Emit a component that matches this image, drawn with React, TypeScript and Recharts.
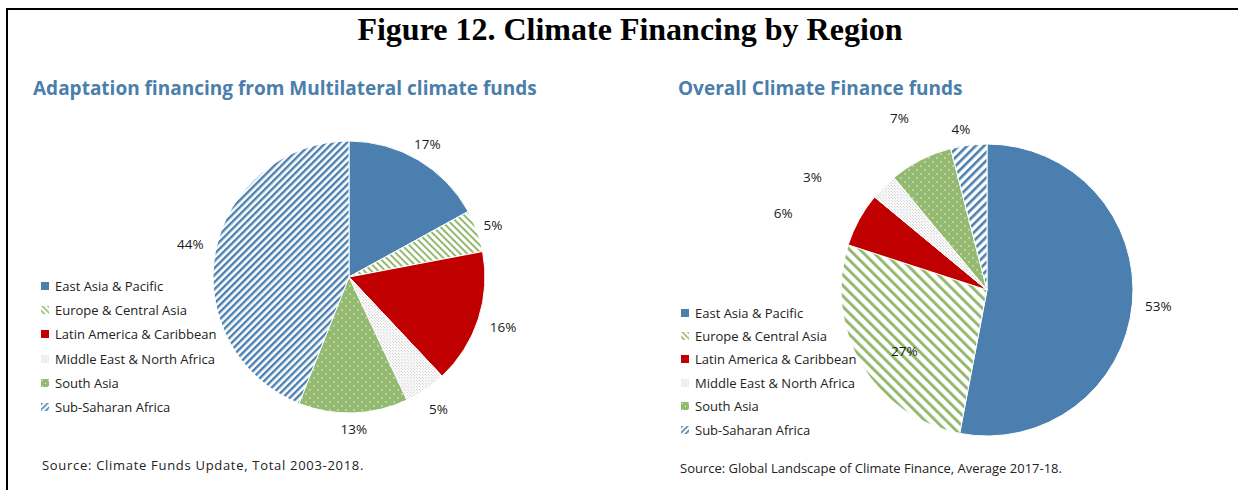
import { Pie, PieChart, Cell } from "recharts";

const regions = [
	"East Asia & Pacific",
	"Europe & Central Asia",
	"Latin America & Caribbean",
	"Middle East & North Africa",
	"South Asia",
	"Sub-Saharan Africa",
];
const adaptationShares = [17, 5, 16, 5, 13, 44];
const overallShares = [53, 27, 6, 3, 7, 4];

// label nudges: [extra radius, extra angle in degrees]
const adaptationLabelNudge = [[18, 0], [17, 0], [26, 0], [23, 0], [16, 0], [26, -1]];
const overallLabelNudge = [[26, 0], [-43, 6], [72, 8], [62, 12], [47, 0], [17, 2]];

const BLUE = "#4A7FAF";
const GREEN = "#93BA70";
const RED = "#C00000";
const TITLE_BLUE = "#4A7EAB";
const SANS = "'Open Sans', 'Noto Sans', sans-serif";

const fillsFor = (p: string) => [BLUE, `url(#${p}-eca)`, RED, `url(#${p}-mena)`, `url(#${p}-sa)`, `url(#${p}-ssa)`];

function Patterns() {
	const stripes = (id: string, size: number, width: number, color: string, angle: number) => (
		<pattern id={id} patternUnits="userSpaceOnUse" width={size} height={size} patternTransform={`rotate(${angle})`}>
			<rect width={size} height={size} fill="#fff" />
			<rect width={width} height={size} fill={color} />
		</pattern>
	);
	const dots = (id: string, size: number, bg: string, dot: string, rad: number) => (
		<pattern id={id} patternUnits="userSpaceOnUse" width={size} height={size}>
			<rect width={size} height={size} fill={bg} />
			<circle cx={size / 4} cy={size / 4} r={rad} fill={dot} />
			<circle cx={(3 * size) / 4} cy={(3 * size) / 4} r={rad} fill={dot} />
		</pattern>
	);
	return (
		<svg width={0} height={0} style={{ position: "absolute" }}>
			<defs>
				{stripes("L-eca", 5, 2, GREEN, -45)}
				{stripes("L-ssa", 5, 2.4, BLUE, 45)}
				{dots("L-mena", 3, "#fff", "#b0b0b0", 0.5)}
				{dots("L-sa", 8, GREEN, "#fff", 0.7)}
				{stripes("R-eca", 7.5, 3, GREEN, -45)}
				{stripes("R-ssa", 6, 2.6, BLUE, 45)}
				{dots("R-mena", 3, "#fff", "#b0b0b0", 0.5)}
				{dots("R-sa", 8, GREEN, "#fff", 0.7)}
				{stripes("I-eca", 4, 1.6, GREEN, -45)}
				{stripes("I-ssa", 4, 1.6, BLUE, 45)}
				{dots("I-mena", 2.5, "#fff", "#aaa", 0.45)}
				{dots("I-sa", 6, GREEN, "#fff", 0.6)}
			</defs>
		</svg>
	);
}

function RegionLegend({ left, top, gap }: { left: number; top: number; gap: number }) {
	const fills = fillsFor("I");
	return (
		<div style={{ position: "absolute", left, top, fontFamily: SANS, fontSize: 13, color: "#222", whiteSpace: "nowrap" }}>
			{regions.map((r, i) => (
				<div key={r} style={{ display: "flex", alignItems: "center", height: gap }}>
					<svg width={8} height={8} style={{ marginRight: 6 }}>
						<rect width={8} height={8} fill={fills[i]} />
					</svg>
					{r}
				</div>
			))}
		</div>
	);
}

function RegionPie({ shares, nudge, prefix, left, cx, cy, radius }: Props) {
	const data = regions.map((name, i) => ({ name, value: shares[i] }));
	const fills = fillsFor(prefix);
	const renderLabel = (props: any) => {
		const { cx: x0, cy: y0, midAngle, outerRadius, index, value } = props;
		const [dr, da] = nudge[index];
		const a = ((midAngle + da) * Math.PI) / 180;
		const r = outerRadius + dr;
		return (
			<text
				x={x0 + r * Math.cos(a)}
				y={y0 - r * Math.sin(a)}
				textAnchor="middle"
				dominantBaseline="central"
				fill="#1a1a1a"
				fontSize={13.5}
				fontFamily={SANS}
			>
				{value}%
			</text>
		);
	};
	return (
		<div style={{ position: "absolute", left, top: 0 }}>
			<PieChart width={619} height={490} margin={{ top: 0, right: 0, bottom: 0, left: 0 }}>
				<Pie
					data={data}
					dataKey="value"
					nameKey="name"
					cx={cx}
					cy={cy}
					outerRadius={radius}
					startAngle={90}
					endAngle={-270}
					stroke="#fff"
					strokeWidth={1}
					label={renderLabel}
					labelLine={false}
					isAnimationActive={false}
				>
					{data.map((d, i) => (
						<Cell key={d.name} fill={fills[i]} />
					))}
				</Pie>
			</PieChart>
		</div>
	);
}

interface Props {
	shares: number[];
	nudge: number[][];
	prefix: string;
	left: number;
	cx: number;
	cy: number;
	radius: number;
}

const abs = (left: number, top: number, extra: any = {}) => ({ position: "absolute" as const, left, top, whiteSpace: "nowrap" as const, ...extra });

export default function App() {
	return (
		<div style={{ position: "absolute", left: 0, top: 0, width: 1238, height: 490, background: "#fff", overflow: "hidden" }}>
			<Patterns />
			<RegionPie shares={adaptationShares} nudge={adaptationLabelNudge} prefix="L" left={0} cx={349} cy={277} radius={136} />
			<RegionPie shares={overallShares} nudge={overallLabelNudge} prefix="R" left={619} cx={368} cy={290} radius={146} />
			<div style={{ position: "absolute", left: 6, top: 8, width: 1232, height: 2, background: "#000" }} />
			<div style={{ position: "absolute", left: 6, top: 8, width: 2, height: 482, background: "#000" }} />
			<div
				style={abs(0, 9, {
					width: 1260,
					textAlign: "center",
					fontFamily: "'Liberation Serif', serif",
					fontWeight: "bold",
					fontSize: 32,
					lineHeight: "40px",
				})}
			>
				Figure 12. Climate Financing by Region
			</div>
			<div style={abs(33, 75, { fontFamily: SANS, fontWeight: "bold", fontSize: 19, color: TITLE_BLUE, lineHeight: "26px" })}>
				Adaptation financing from Multilateral climate funds
			</div>
			<div style={abs(678, 75, { fontFamily: SANS, fontWeight: "bold", fontSize: 19, color: TITLE_BLUE, lineHeight: "26px" })}>
				Overall Climate Finance funds
			</div>
			<RegionLegend left={41} top={274} gap={24.2} />
			<RegionLegend left={681} top={301} gap={23.4} />
			<div style={abs(42, 456, { fontFamily: SANS, fontSize: 13, letterSpacing: 0.7, color: "#222", lineHeight: "18px" })}>
				Source: Climate Funds Update, Total 2003-2018.
			</div>
			<div style={abs(680, 459, { fontFamily: SANS, fontSize: 13, color: "#222", lineHeight: "18px" })}>
				Source: Global Landscape of Climate Finance, Average 2017-18.
			</div>
		</div>
	);
}
